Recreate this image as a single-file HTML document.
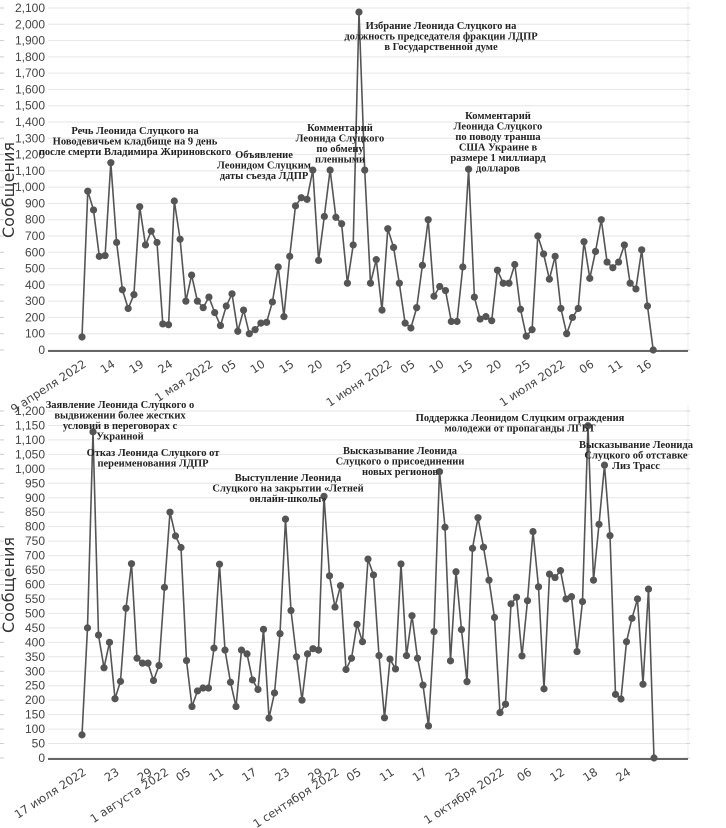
<!DOCTYPE html>
<html><head><meta charset="utf-8"><style>
html,body{margin:0;padding:0;background:#fff}
svg{display:block}
.tk{font-family:"DejaVu Sans","Liberation Sans",sans-serif;font-size:11.5px;fill:#444}
.yl{font-family:"Liberation Sans","DejaVu Sans",sans-serif;font-size:12px;fill:#444}
.an{font-family:"Liberation Serif","Noto Serif CJK SC",serif;font-size:10.5px;font-weight:bold;fill:#222}
.yt{font-family:"DejaVu Sans","Liberation Sans",sans-serif;font-size:16px;fill:#333}
</style></head><body>
<svg id="chart" width="726" height="828" viewBox="0 0 726 828" xmlns="http://www.w3.org/2000/svg"></svg>
<script>
// Top panel data: daily messages 9 Apr 2022 – 17 Jul 2022
const topValues = [80,975,860,575,580,1150,660,370,255,340,880,645,730,660,160,155,915,680,300,460,300,260,
325,230,150,270,345,115,245,100,125,165,170,295,510,205,575,885,935,925,1105,550,820,1105,815,775,410,645,2075,1105,410,555,245,
745,630,410,165,135,260,520,800,330,390,365,175,175,510,1110,325,190,205,180,490,410,410,525,250,85,125,700,590,435,575,
255,100,200,255,665,440,605,800,540,505,540,645,410,375,615,270,0];
const topTickDays = [0,5,10,15,22,26,31,36,41,46,53,57,62,67,72,77,83,88,93,98];
const topTickLabels = ["9 апреля 2022","14","19","24","1 мая 2022","05","10","15","20","25","1 июня 2022","05","10","15","20","25","1 июля 2022","06","11","16"];
const topYTicks = [0,100,200,300,400,500,600,700,800,900,1000,1100,1200,1300,1400,1500,1600,1700,1800,1900,2000,2100];
// Bottom panel data: daily messages 17 Jul 2022 – 29 Oct 2022
const botValues = [80,450,1128,425,312,400,205,265,518,672,345,328,328,268,320,590,850,768,728,337,178,232,242,242,380,670,373,262,178,373,360,270,237,445,138,225,430,826,510,350,200,360,378,373,905,630,522,596,306,345,462,402,688,
633,354,139,342,308,671,354,492,345,252,111,437,990,798,336,644,444,264,725,831,729,615,486,157,186,533,556,353,544,783,592,239,636,624,648,550,558,368,541,1149,615,808,1013,769,220,204,402,483,550,255,584,0];
const botTickDays = [0,6,12,15,19,25,31,37,43,46,50,56,62,68,76,81,87,93,99];
const botTickLabels = ["17 июля 2022","23","29","1 августа 2022","05","11","17","23","29","1 сентября 2022","05","11","17","23","1 октября 2022","06","12","18","24"];
const botYTicks = [0,50,100,150,200,250,300,350,400,450,500,550,600,650,700,750,800,850,900,950,1000,1050,1100,1150,1200];

const NS="http://www.w3.org/2000/svg";
const svg=document.getElementById('chart');
function mk(tag,attrs,parent){const e=document.createElementNS(NS,tag);for(const k in attrs)e.setAttribute(k,attrs[k]);(parent||svg).appendChild(e);return e;}

function panel(cfg){
  const g=mk('g',{});
  
  
  const xS=d=>cfg.x0+d*cfg.dx;
  const yS=v=>cfg.yBase-(v/cfg.yMax)*(cfg.yBase-cfg.yTop);
  cfg.yTicks.forEach(v=>{
    const y=yS(v);
    const gl=mk('line',{x1:48,x2:688,y1:y,y2:y,stroke:'#e6e6e6','stroke-width':1},g);
    
    
    mk('line',{x1:0,x2:4,y1:y,y2:y,stroke:'#ccc','stroke-width':1},g);
    mk('line',{x1:686,x2:690,y1:y,y2:y,stroke:'#ccc','stroke-width':1},g);
    const t=mk('text',{x:45,y:y+4,'text-anchor':'end',class:'yl'},g);
    t.textContent=v.toLocaleString('en-US');
    
    
  });
  mk('line',{x1:688,x2:688,y1:cfg.yTop-6,y2:cfg.yBase,stroke:'#eee','stroke-width':1},g);
  const ax=mk('line',{x1:48,x2:688,y1:cfg.yBase+1,y2:cfg.yBase+1,stroke:'#666','stroke-width':2},g);
  
  
  cfg.tickDays.forEach((d,i)=>{
    const x=xS(d), y=cfg.yBase+16;
    const t=mk('text',{x:x+5,y:y,'text-anchor':'end',class:'tk',transform:`rotate(-33 ${x+5} ${y})`},g);
    t.textContent=cfg.tickLabels[i];
    
    
  });
  const yt=mk('text',{x:14,y:cfg.titleY,'text-anchor':'middle',class:'yt',transform:`rotate(-90 14 ${cfg.titleY})`},g);
  yt.textContent='Сообщения';
  
  
  const pts=cfg.values.map((v,i)=>xS(i).toFixed(1)+','+yS(v).toFixed(1)).join(' ');
  const pl=mk('polyline',{points:pts,fill:'none',stroke:'#555','stroke-width':1.6},g);
  
  
  cfg.values.forEach((v,i)=>{
    const c=mk('circle',{cx:xS(i),cy:yS(v),r:3.6,fill:'#555'},g);
    
    
  });
  cfg.notes.forEach(n=>{
    n.lines.forEach((l,j)=>{
      const t=mk('text',{x:n.x,y:n.y+j*10.5,'text-anchor':'middle',class:'an'},g);
      t.textContent=l;
      
      
    });
  });
}

panel({name:'top-panel',values:topValues,x0:82,dx:5.77,yBase:350,yTop:8,yMax:2100,yTicks:topYTicks,
  tickDays:topTickDays,tickLabels:topTickLabels,titleY:190,
  notes:[
   {x:135,y:134,lines:['Речь Леонида Слуцкого на','Новодевичьем кладбище на 9 день','после смерти Владимира Жириновского']},
   {x:264,y:158,lines:['Объявление','Леонидом Слуцким','даты съезда ЛДПР']},
   {x:340,y:131,lines:['Комментарий','Леонида Слуцкого','по обмену','пленными']},
   {x:441,y:29,lines:['Избрание Леонида Слуцкого на','должность председателя фракции ЛДПР','в Государственной думе']},
   {x:498,y:119,lines:['Комментарий','Леонида Слуцкого','по поводу транша','США Украине в','размере 1 миллиард','долларов']}
  ]});
panel({name:'bottom-panel',values:botValues,x0:82,dx:5.5,yBase:758,yTop:411,yMax:1200,yTicks:botYTicks,
  tickDays:botTickDays,tickLabels:botTickLabels,titleY:585,
  notes:[
   {x:120,y:408,lines:['Заявление Леонида Слуцкого о','выдвижении более жестких','условий в переговорах с','Украиной']},
   {x:153,y:456,lines:['Отказ Леонида Слуцкого от','переименования ЛДПР']},
   {x:288,y:481,lines:['Выступление Леонида','Слуцкого на закрытии «Летней','онлайн-школы»']},
   {x:400,y:454,lines:['Высказывание Леонида','Слуцкого о присоединении','новых регионов']},
   {x:520,y:421,lines:['Поддержка Леонидом Слуцким ограждения','молодежи от пропаганды ЛГБТ']},
   {x:636,y:448,lines:['Высказывание Леонида','Слуцкого об отставке','Лиз Трасс']}
  ]});
</script>
</body></html>
